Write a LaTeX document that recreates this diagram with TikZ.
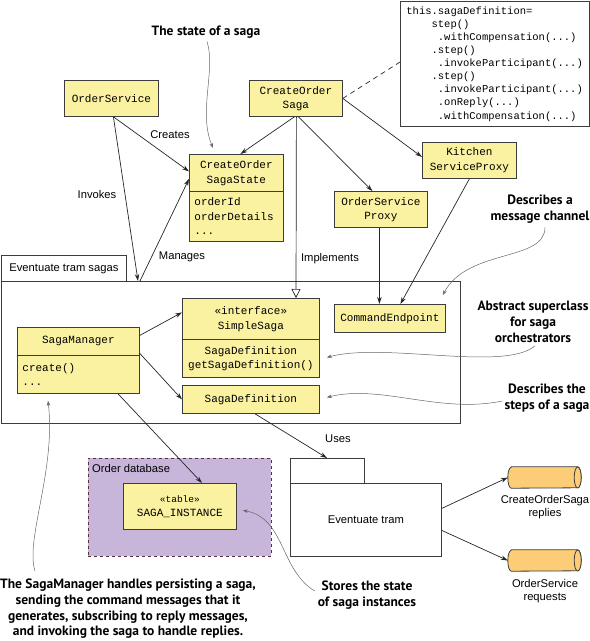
\documentclass[tikz,border=0pt]{standalone}
\usepackage{fontspec}
\setmainfont{Liberation Sans}
\setmonofont{Liberation Mono}
\newfontfamily\annfont{PT Sans}
\usetikzlibrary{arrows.meta,shapes.geometric,calc}
\definecolor{yfill}{RGB}{250,242,160}
\definecolor{pfill}{RGB}{200,182,218}
\definecolor{cylfill}{RGB}{252,204,118}
\definecolor{edge}{RGB}{60,60,60}
\tikzset{
  box/.style={draw=edge, fill=yfill, line width=0.8pt, inner sep=0pt, anchor=north west, align=center,
    font=\ttfamily\fontsize{11}{14.5}\selectfont},
  lbox/.style={box, align=left, inner xsep=5pt},
  pkg/.style={draw=edge, fill=white, line width=0.8pt, inner sep=0pt, anchor=north west,
    font=\fontsize{11.2}{13}\selectfont},
  lbl/.style={font=\fontsize{11.2}{13}\selectfont, inner sep=0pt},
  annot/.style={font=\annfont\bfseries\fontsize{13.5}{15.7}\selectfont, align=center, inner sep=0pt},
  arr/.style={draw=black!85, line width=0.7pt, -{Stealth[length=7pt,width=4.5pt]}},
  curv/.style={draw=black!60, line width=0.5pt, -{Stealth[length=5pt,width=3.5pt]}},
  cylnode/.style={draw=none, inner sep=0pt, minimum width=73pt, minimum height=21pt},
  cylbody/.style={draw=edge, fill=cylfill, line width=0.8pt},
}
\begin{document}
\begin{tikzpicture}[x=1pt,y=-1pt]
\useasboundingbox (0,0) rectangle (590,641);

% code box
\node[draw=edge, fill=white, line width=0.8pt, anchor=north west, minimum width=189pt, minimum height=125pt,
  text width=177pt, inner xsep=6pt, inner ysep=0pt, align=left,
  font=\ttfamily\fontsize{10.5}{13.1}\selectfont] (code) at (400,1) {%
this.sagaDefinition=\\
\phantom{0000}step()\\
\phantom{00000}.withCompensation(...)\\
\phantom{0000}.step()\\
\phantom{00000}.invokeParticipant(...)\\
\phantom{0000}.step()\\
\phantom{00000}.invokeParticipant(...)\\
\phantom{00000}.onReply(...)\\
\phantom{00000}.withCompensation(...)};

% packages
\node[pkg, minimum width=125pt, minimum height=26pt] (sagasTab) at (1,255) {Eventuate tram sagas};
\node[pkg, minimum width=459pt, minimum height=142pt] (sagasMain) at (1,281) {};

\node[draw=edge!80!purple, dashed, fill=pfill, line width=0.8pt, anchor=north west,
  minimum width=183pt, minimum height=98pt] (odb) at (88,458) {};
\node[lbl, anchor=west] (odblabel) at (92,468) {Order database};

\node[pkg, minimum width=74pt, minimum height=25pt] (etTab) at (290,458) {};
\node[pkg, minimum width=151pt, minimum height=73pt] (etMain) at (290,483) {Eventuate tram};

% classes
\node[box, minimum width=94pt, minimum height=36pt] (os) at (64,80) {OrderService};
\node[box, minimum width=93pt, minimum height=36pt] (cos) at (249,80) {CreateOrder\\Saga};
\node[box, minimum width=94pt, minimum height=37pt] (stT) at (189,154) {CreateOrder\\SagaState};
\node[lbox, text width=84pt, minimum width=94pt, minimum height=50pt] (stB) at (189,191) {orderId\\orderDetails\\...};
\node[box, minimum width=94pt, minimum height=36pt] (ksp) at (422,142) {Kitchen\\ServiceProxy};
\node[box, minimum width=93pt, minimum height=36pt] (osp) at (334,191) {OrderService\\Proxy};

\node[box, minimum width=137pt, minimum height=41pt] (ssT) at (182,298) {«interface»\\SimpleSaga};
\node[box, minimum width=137pt, minimum height=38pt] (ssB) at (182,339) {SagaDefinition\\getSagaDefinition()};
\node[box, minimum width=137pt, minimum height=28pt] (sd) at (182,385) {SagaDefinition};
\node[box, minimum width=111pt, minimum height=28pt] (ce) at (334,304) {CommandEndpoint};
\node[box, minimum width=122pt, minimum height=28pt] (smT) at (17,327) {SagaManager};
\node[lbox, text width=112pt, minimum width=122pt, minimum height=38pt] (smB) at (17,355) {create()\\...};

\node[box, minimum width=113pt, minimum height=46pt] (si) at (123,483) {{\fontsize{9.5}{12}\selectfont«table»}\\SAGA\_INSTANCE};

% queues (cylinders)
\node[cylnode] (cyl1) at (544.5,477.5) {};
\node[cylnode] (cyl2) at (544.5,560.5) {};
\foreach \c in {cyl1,cyl2}{
  \draw[cylbody] ($(\c.north west)+(3.5,0)$) -- ($(\c.north east)+(-3.5,0)$)
     arc[start angle=-90, end angle=90, x radius=3.5, y radius=10.5]
     -- ($(\c.south west)+(3.5,0)$)
     arc[start angle=90, end angle=270, x radius=3.5, y radius=10.5] -- cycle;
  \draw[cylbody] ($(\c.east)+(-3.5,0)$) ellipse[x radius=3.5, y radius=10.5];
}
\node[lbl, align=center, anchor=north] (cyl1l) at (545,495) {CreateOrderSaga\\replies};
\node[lbl, align=center, anchor=north] (cyl2l) at (545,579) {OrderService\\requests};

% connectors
\draw[arr] ($(os.south)+(2,0)$) -- ($(stT.west)+(0,-1.5)$);
\draw[arr] ($(os.south)+(2,0)$) -- ($(sagasMain.north west)+(137,0)$);
\draw[arr] ($(sagasMain.north west)+(139,0)$) -- ($(stT.west)+(0,6)$);
\draw[arr] ($(cos.south)+(-1.5,0)$) -- ($(stT.north)+(4,0)$);
\draw[arr] ($(cos.south)+(2.5,0)$) -- ($(osp.north)+(-8.5,0)$);
\draw[arr] (cos.east) -- ($(ksp.north west)+(0,15)$);
\draw[draw=black!85, line width=0.7pt, dash pattern=on 5pt off 4pt] (cos.east) -- ($(code.north west)+(0,61)$);
\draw[draw=black!85, line width=0.7pt, -{Triangle[open,length=9pt,width=9pt]}] ($(cos.south)+(0.5,0)$) -- ($(ssT.north west)+(114,0)$);
\draw[arr] ($(osp.south)+(-1.5,0)$) -- ($(ce.north)+(-10.5,0)$);
\draw[arr] (ksp.south) -- ($(ce.north)+(10.5,0)$);
\draw[arr] ($(smT.east)+(0,-6)$) -- ($(ssT.west)+(0,-6.5)$);
\draw[arr] ($(smT.east)+(0,12)$) -- (sd.west);
\draw[arr] ($(smB.south west)+(101,0)$) -- ($(si.north west)+(79,0)$);
\draw[arr] ($(sd.south west)+(73,0)$) -- ($(etTab.north west)+(37,0)$);
\draw[arr] ($(etMain.east)+(0,-11.5)$) -- (cyl1.west);
\draw[arr] ($(etMain.east)+(0,10.5)$) -- (cyl2.west);

% connector labels
\node[lbl] (lcreates) at (170,135) {Creates};
\node[lbl] (linvokes) at (97,194) {Invokes};
\node[lbl] (lmanages) at (182,257) {Manages};
\node[lbl] (limpl) at (330,259) {Implements};
\node[lbl] (luses) at (338,439) {Uses};

% annotations
\node[annot] (n1) at (206,32) {The state of a saga};
\node[annot] (n2) at (540,209) {Describes a\\message channel};
\node[annot] (n3) at (533,322) {Abstract superclass\\for saga\\orchestrators};
\node[annot] (n4) at (547,398) {Describes the\\steps of a saga};
\node[annot] (n5) at (367,595) {Stores the state\\of saga instances};
\node[annot] (n6) at (128,609) {The SagaManager handles persisting a saga,\\sending the command messages that it\\generates, subscribing to reply messages,\\and invoking the saga to handle replies.};

\draw[curv] ($(n1.south)+(1,3)$) .. controls (216,70) and (198,112) .. ($(stT.north west)+(24,-6)$);
\draw[curv] ($(n2.south)+(5,4)$) .. controls (545,262) and (468,248) .. ($(sagasMain.north east)+(-18,14)$);
\draw[curv] ($(n3.south)+(2,3)$) .. controls (505,372) and (385,342) .. ($(ssB.east)+(7,-1)$);
\draw[curv] ($(n4.west)+(-2,3)$) .. controls (440,414) and (380,384) .. ($(sd.east)+(7,-2)$);
\draw[curv] ($(n5.west)+(-3,-4)$) .. controls (280,570) and (285,518) .. ($(si.east)+(6,4)$);
\draw[curv] ($(n6.north west)+(35,-8)$) .. controls (25,540) and (56,470) .. ($(smB.south west)+(31,7)$);
\end{tikzpicture}
\end{document}
